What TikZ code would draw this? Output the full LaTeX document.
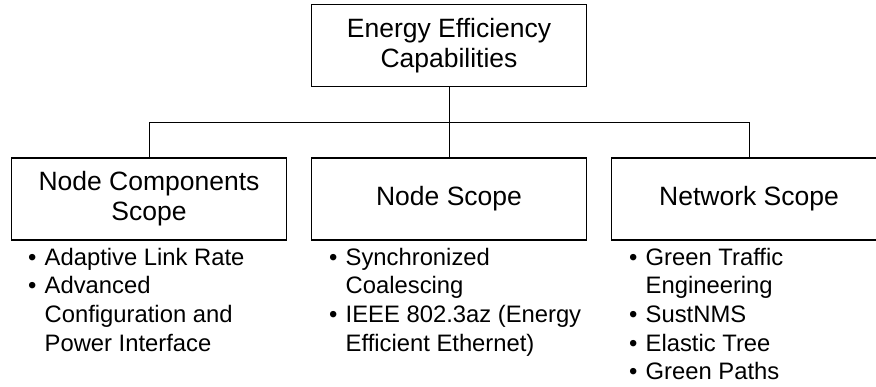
\documentclass[tikz,border=0pt]{standalone}
\usepackage{fontspec}
\setmainfont{Liberation Sans}
% bullet marker, continuation indent and a fixed first-line height for the item lists
\newcommand\itm{\makebox[16.5pt][l]{•}}
\newcommand\cnt{\hspace*{16.5pt}}
\newcommand\firstln{\rule{0pt}{20pt}}
\tikzset{
  box/.style={draw, line width=1.5pt, minimum width=275pt, minimum height=82pt,
    inner sep=0pt, align=center, font=\fontsize{26.5}{30}\selectfont},
  link/.style={line width=0.9pt},
  items/.style={anchor=north west, inner sep=0pt, align=left,
    font=\fontsize{23.8}{28.7}\selectfont},
}
\begin{document}
\begin{tikzpicture}[x=1pt, y=-1pt]
  \useasboundingbox (0,0) rectangle (876,387);
  % root and the three scopes
  \node[box] (root) at (449,45.5) {Energy Efficiency\\Capabilities};
  \node[box] (comp) at (149,199) {Node Components\\Scope};
  \node[box] (node) at (449,199) {Node Scope};
  \node[box] (net)  at (749,199) {Network Scope};
  % tree connectors
  \coordinate (bus) at (449,122);
  \draw[link] (root.south) -- (node.north);
  \draw[link] (comp.north) -- (comp.north |- bus) -- (net.north |- bus) -- (net.north);
  % item lists under each scope (first baseline 20pt below the node top)
  \node[items] (compitems) at (28,245) {\firstln\itm Adaptive Link Rate\\
    \itm Advanced\\ \cnt Configuration and\\ \cnt Power Interface};
  \node[items] (nodeitems) at (329,245) {\firstln\itm Synchronized\\ \cnt Coalescing\\
    \itm IEEE 802.3az (Energy\\ \cnt Efficient Ethernet)};
  \node[items] (netitems) at (629,245) {\firstln\itm Green Traffic\\ \cnt Engineering\\
    \itm SustNMS\\ \itm Elastic Tree\\ \itm Green Paths};
\end{tikzpicture}
\end{document}
